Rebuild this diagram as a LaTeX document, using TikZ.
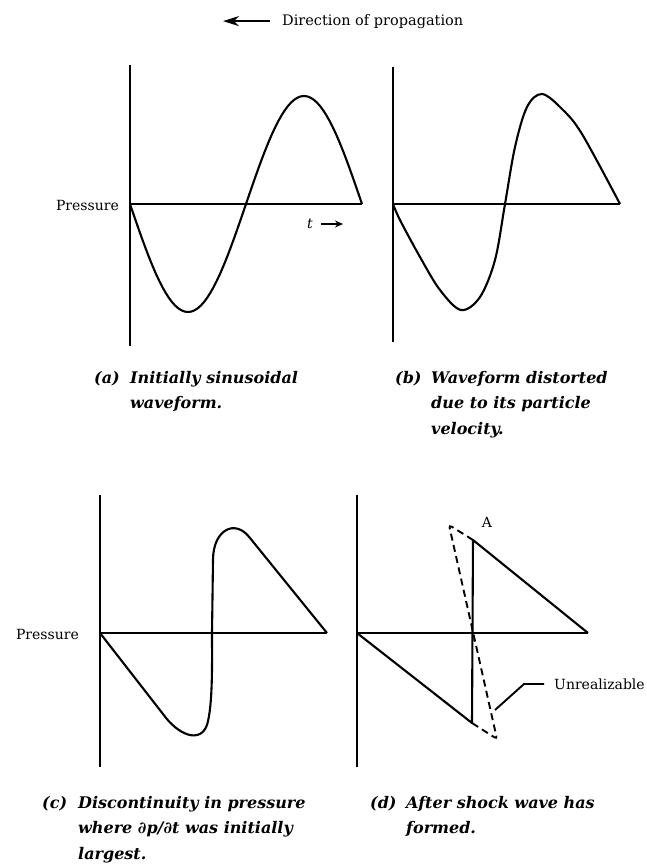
\documentclass[tikz,border=0pt]{standalone}
\usepackage{fontspec}
\setmainfont{DejaVu Serif}
\usetikzlibrary{arrows.meta}

\begin{document}
\begin{tikzpicture}[x=1pt, y=-1pt,
  axis/.style={line width=2.1pt},
  wave/.style={line width=2.1pt, line join=round},
  lbl/.style={inner sep=0pt, font=\fontsize{14}{16}\selectfont},
  capno/.style={inner sep=0pt, anchor=base west, font=\fontsize{16}{25.5}\selectfont\bfseries\itshape},
  captext/.style={inner sep=0pt, anchor=north west, align=left, font=\fontsize{16}{25.5}\selectfont\bfseries\itshape}]
  \useasboundingbox (0,0) rectangle (646,868);

  % heading
  \node[lbl, font=\fontsize{14.5}{16}\selectfont, anchor=base west] (dir) at (282,25) {Direction of propagation};
  \draw[line width=2pt, -{Stealth[length=16pt, width=10pt]}] ([xshift=-12pt]dir.west) -- ++(-47,0);

  % (a) initial sine
  \draw[axis] (130,65) -- (130,346);
  \draw[axis] (130,204) -- (362,204);
  \draw[wave] plot[domain=0:360, samples=73] ({130+\x/360*232}, {204+108*sin(\x)});
  \node[lbl, anchor=east] (pa) at (119,205) {Pressure};
  \node[lbl, font=\fontsize{14}{16}\selectfont\itshape] (ta) at (310,224) {t};
  \draw[line width=1.8pt, -{Stealth[length=8pt, width=7pt]}] ([xshift=8pt]ta.east) -- ++(22,0);
  \node[capno] (capa) at (94,383) {(a)};
  \node[captext] (txta) at ([xshift=36pt]capa.north west) {Initially sinusoidal\\waveform.};

  % (b) distorted
  \draw[axis] (393,67) -- (393,342);
  \draw[axis] (393,204) -- (620,204);
  \draw[wave] plot[smooth, tension=0.55] coordinates {(393,204) (400,220) (420,257) (440,290)
    (461,310) (480,297) (495,260) (505,204) (515,147) (527,107) (542,94) (562,109)
    (582,134) (620,204)};
  \node[capno] (capb) at (395,383) {(b)};
  \node[captext] (txtb) at ([xshift=36pt]capb.north west) {Waveform distorted\\due to its particle\\velocity.};

  % (c) discontinuity
  \draw[axis] (100,495) -- (100,767);
  \draw[axis] (100,633) -- (327,633);
  \draw[wave] (100,633) -- (163,714)
    .. controls (178,735) and (200,744) .. (207,725)
    .. controls (213,705) and (212,660) .. (212,633)
    -- (213,560)
    .. controls (213,530) and (235,518) .. (250,538)
    -- (327,633);
  \node[lbl, anchor=east] (pc) at (79,634) {Pressure};
  \node[capno] (capc) at (42,808) {(c)};
  \node[captext] (txtc) at ([xshift=36pt]capc.north west) {Discontinuity in pressure\\where ∂p/∂t was initially\\largest.};

  % (d) shock
  \coordinate (dA) at (473,540);
  \coordinate (dB) at (472,723);
  \draw[axis] (357,495) -- (357,767);
  \draw[axis] (357,633) -- (588,633);
  \draw[wave] (357,633) -- (dB) -- (dA) -- (588,633);
  \draw[line width=1.9pt, dash pattern=on 7pt off 4.5pt, rounded corners=3pt]
    (dA) -- (449,525) -- (497,739) -- (dB);
  \node[lbl] (alab) at (487,522) {A};
  \node[lbl, anchor=west] (unr) at (554,684) {Unrealizable};
  \coordinate (lead) at (495,710);
  \draw[line width=1.9pt] (lead) -- ([xshift=-30pt]unr.west) -- ([xshift=-10pt]unr.west);
  \node[capno] (capd) at (370,808) {(d)};
  \node[captext] (txtd) at ([xshift=36pt]capd.north west) {After shock wave has\\formed.};
\end{tikzpicture}
\end{document}
